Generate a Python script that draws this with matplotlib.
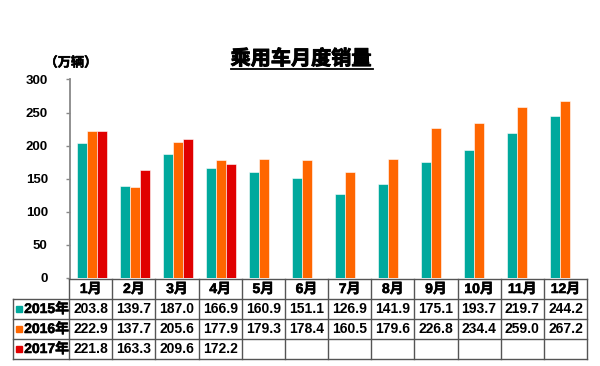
import numpy as np
import matplotlib.pyplot as plt
import matplotlib.patheffects as pe
from matplotlib.lines import Line2D

plt.rcParams['font.family'] = ['Liberation Sans', 'Noto Sans CJK SC', 'DejaVu Sans']
plt.rcParams['font.weight'] = 'bold'

months = ['1月', '2月', '3月', '4月', '5月', '6月', '7月', '8月', '9月', '10月', '11月', '12月']
sales_2015 = [203.8, 139.7, 187.0, 166.9, 160.9, 151.1, 126.9, 141.9, 175.1, 193.7, 219.7, 244.2]
sales_2016 = [222.9, 137.7, 205.6, 177.9, 179.3, 178.4, 160.5, 179.6, 226.8, 234.4, 259.0, 267.2]
sales_2017 = [221.8, 163.3, 209.6, 172.2]
years = ['2015年', '2016年', '2017年']
colors = ['#00A99D', '#FF6600', '#E00000']

W, H = 600, 366
fig = plt.figure(figsize=(6, 3.66), dpi=100)

# fake heavier weight for the CJK glyphs
thick = [pe.withStroke(linewidth=0.7, foreground='black')]
thin = [pe.withStroke(linewidth=0.4, foreground='black')]

# main bar axes
ax = fig.add_axes([70 / W, (H - 278) / H, 517 / W, 198.5 / H])
x = np.arange(len(months))
bw = 0.232
series = [sales_2015, sales_2016, sales_2017]
for i, vals in enumerate(series):
    ax.bar(x[:len(vals)] + (i - 1) * bw, vals, width=bw, color=colors[i], edgecolor='white', linewidth=0.4)
ax.set_xlim(-0.5, 11.5)
ax.set_ylim(0, 300)
ax.set_yticks(range(0, 301, 50))
ax.set_xticks([])
for s in ['top', 'right', 'bottom']:
    ax.spines[s].set_visible(False)
ax.spines['left'].set_color('#888888')
ax.spines['left'].set_linewidth(1.3)
ax.tick_params(axis='y', length=3, width=1, color='#888888', pad=13, labelsize=9.5)
for lab in ax.get_yticklabels():
    lab.set_fontweight('bold')

# title with underline
fig.text(301 / W, 1 - 59 / H, '乘用车月度销量', ha='center', va='center', fontsize=14.5,
         fontweight='bold', path_effects=thick)
fig.add_artist(Line2D([231 / W, 373 / W], [1 - 69 / H, 1 - 69 / H], color='black', linewidth=1.3))
fig.text(71 / W, 1 - 63 / H, '（万辆）', ha='center', va='center', fontsize=9.5,
         fontweight='bold', path_effects=thin)

# data table below
tax = fig.add_axes([13 / W, (H - 359) / H, 574 / W, 80 / H])
left = -0.5 - 56 / 43.08
tax.set_xlim(left, 11.5)
tax.set_ylim(4, 0)
tax.axis('off')
lc = '#555555'
lw = 1.0
tax.plot([-0.5, 11.5], [0, 0], color=lc, lw=lw, clip_on=False)
for r in range(1, 5):
    tax.plot([left, 11.5], [r, r], color=lc, lw=lw, clip_on=False)
tax.plot([left, left], [1, 4], color=lc, lw=lw, clip_on=False)
for k in range(13):
    tax.plot([k - 0.5, k - 0.5], [0, 4], color=lc, lw=lw, clip_on=False)

for j, m in enumerate(months):
    tax.text(j, 0.5, m, ha='center', va='center', fontsize=10, fontweight='bold', path_effects=thin)
for i, vals in enumerate(series):
    tax.plot(left + 0.15, i + 1.5, marker='s', markersize=4.5, color=colors[i], clip_on=False)
    tax.text(left + 0.26, i + 1.5, years[i], ha='left', va='center', fontsize=10,
             fontweight='bold', path_effects=thin)
    for j, v in enumerate(vals):
        tax.text(j, i + 1.5, f'{v:.1f}', ha='center', va='center', fontsize=10, fontweight='bold')

fig.savefig('out.png', dpi=100)
